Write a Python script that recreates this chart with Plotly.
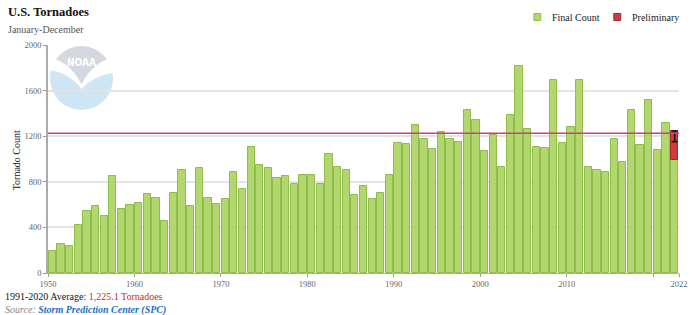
import base64
import numpy as np
import plotly.graph_objects as go

# ---------------- data ----------------
years = list(range(1950, 2023))
final_count = [
    196, 253, 233, 417, 548, 590, 502, 855, 562, 600,      # 1950-1959
    612, 697, 656, 460, 704, 900, 584, 925, 660, 606,      # 1960-1969
    651, 887, 740, 1101, 947, 919, 834, 851, 783, 857,     # 1970-1979
    862, 779, 1045, 930, 906, 682, 763, 653, 698, 857,     # 1980-1989
    1137, 1132, 1302, 1173, 1084, 1240, 1173, 1149, 1431, 1342,  # 1990-1999
    1074, 1209, 931, 1387, 1820, 1261, 1105, 1099, 1695, 1144,   # 2000-2009
    1281, 1695, 934, 902, 884, 1175, 972, 1430, 1121, 1518,      # 2010-2019
    1080, 1316, 988,                                             # 2020-2022
]
prelim_year = [2022]
prelim_top = [1246]
prelim_err_low = [1152]
average_1991_2020 = 1225.1

x_tick_vals = [1950, 1960, 1970, 1980, 1990, 2000, 2010, 2020, 2023]
x_tick_text = ["1950", "1960", "1970", "1980", "1990", "2000", "2010", "", "2022"]
y_tick_vals = [0, 400, 800, 1200, 1600, 2000]
legend_names = ["Final Count", "Preliminary"]

SERIF = "Liberation Serif, Times New Roman, serif"
GREEN = "#b3d76f"
GREEN_LINE = "#8fbd4a"
RED = "#d33b3b"
RED_LINE = "#9e2a2a"

fig = go.Figure()

bar_x = np.array(years) + 0.5
fig.add_trace(go.Bar(
    x=bar_x, y=final_count, width=0.84, name=legend_names[0],
    marker=dict(color=GREEN, line=dict(color=GREEN_LINE, width=1)),
    showlegend=False,
))

prelim_base = [final_count[years.index(y)] for y in prelim_year]
prelim_height = [t - b for t, b in zip(prelim_top, prelim_base)]
fig.add_trace(go.Bar(
    x=np.array(prelim_year) + 0.5, y=prelim_height, base=prelim_base, width=0.84,
    name=legend_names[1],
    marker=dict(color=RED, line=dict(color=RED_LINE, width=1)),
    error_y=dict(type="data", symmetric=False, array=[0],
                 arrayminus=[t - l for t, l in zip(prelim_top, prelim_err_low)],
                 color="#111", thickness=1.5, width=3),
    showlegend=False,
))

# average line
fig.add_shape(type="line", xref="paper", x0=0, x1=1, yref="y",
              y0=average_1991_2020, y1=average_1991_2020,
              line=dict(color="#d63a80", width=1.5), layer="above")

# legend (manual, top right)
legend_items = [
    (legend_names[0], GREEN, GREEN_LINE, 0.7700, 0.7950),
    (legend_names[1], RED, RED_LINE, 0.8967, 0.9218),
]
for name, fill, edge, sx, tx in legend_items:
    fig.add_shape(type="rect", xref="paper", yref="paper",
                  x0=sx, x1=sx + 0.011, y0=1.1075, y1=1.1382,
                  fillcolor=fill, line=dict(color=edge, width=1))
    fig.add_annotation(text=name, xref="paper", yref="paper", x=tx, y=1.1228,
                       xanchor="left", yanchor="middle", showarrow=False,
                       font=dict(family=SERIF, size=10, color="#222"))

# NOAA watermark logo (svg)
svg = """<svg xmlns='http://www.w3.org/2000/svg' viewBox='0 0 100 100' width='100' height='100'>
<defs><clipPath id='c'><circle cx='50' cy='50' r='50'/></clipPath></defs>
<g clip-path='url(#c)'>
<rect width='100' height='100' fill='#ffffff'/>
<path d='M0,0 H100 V18 Q68,25 50,60 Q32,25 0,18 Z' fill='#d5d8e1'/>
<path d='M0,38 Q30,42 50,67 Q68,46 100,42 V100 H0 Z' fill='#cee6f4'/>
</g>
<text x='50' y='31' text-anchor='middle' font-family='DejaVu Sans, sans-serif' font-weight='bold'
 font-size='17' fill='#ffffff' textLength='46' lengthAdjust='spacingAndGlyphs'>NOAA</text>
</svg>"""
logo_uri = "data:image/svg+xml;base64," + base64.b64encode(svg.encode()).decode()
fig.add_layout_image(dict(source=logo_uri, xref="paper", yref="paper",
                          x=0.0031, y=0.9956, sizex=0.1, sizey=0.2807,
                          xanchor="left", yanchor="top", sizing="stretch",
                          layer="below", opacity=1))

# text annotations
ann = [
    dict(text="<b>U.S. Tornadoes</b>", x=-0.0673, y=1.145, size=12.5, color="#111"),
    dict(text="January-December", x=-0.0673, y=1.07, size=10, color="#555"),
    dict(text="1991-2020 Average: <span style='color:#c0302a'>1,225.1 Tornadoes</span>",
         x=-0.072, y=-0.101, size=10, color="#111"),
    dict(text="<i><span style='color:#888'>Source:</span> <b><span style='color:#1b6fc4'>Storm Prediction Center (SPC)</span></b></i>",
         x=-0.072, y=-0.162, size=10, color="#111"),
]
for a in ann:
    fig.add_annotation(text=a["text"], xref="paper", yref="paper", x=a["x"], y=a["y"],
                       xanchor="left", yanchor="middle", showarrow=False,
                       font=dict(family=SERIF, size=a["size"], color=a["color"]))
fig.add_annotation(text="Tornado Count", xref="paper", yref="paper", x=-0.0485, y=0.496,
                   textangle=-90, showarrow=False, xanchor="center", yanchor="middle",
                   font=dict(family=SERIF, size=10, color="#111"))

fig.update_layout(
    width=700, height=315, autosize=False,
    margin=dict(l=48, r=13, t=45, b=42),
    paper_bgcolor="white", plot_bgcolor="rgba(0,0,0,0)",
    barmode="overlay", bargap=0, showlegend=False,
    font=dict(family=SERIF, color="#333"),
    xaxis=dict(range=[1950, 2023], showgrid=False, zeroline=False,
               showline=True, linecolor="#aaaaaa", linewidth=1,
               ticks="outside", ticklen=3, tickcolor="#999999",
               tickvals=x_tick_vals, ticktext=x_tick_text,
               tickfont=dict(family=SERIF, size=8.5, color="#666")),
    yaxis=dict(range=[0, 2000], tickvals=y_tick_vals, showgrid=True,
               gridcolor="#e3e3e3", gridwidth=1.5, zeroline=False,
               showline=True, linecolor="#aaaaaa", linewidth=1.5,
               ticks="outside", ticklen=3, tickcolor="#999999",
               tickfont=dict(family=SERIF, size=8.5, color="#666")),
)

fig.write_html("out.html")
